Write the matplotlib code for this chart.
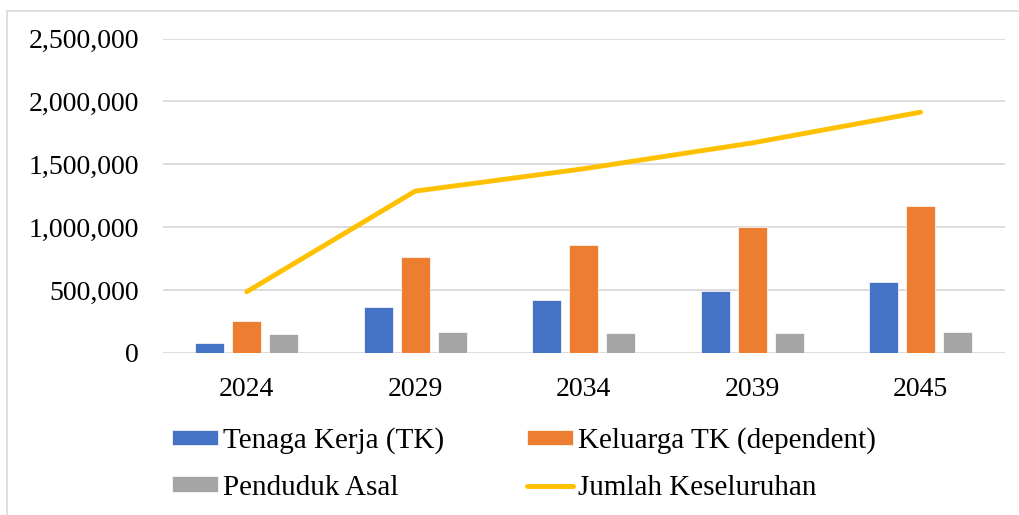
import numpy as np
import matplotlib.pyplot as plt
from matplotlib.patches import Rectangle
from matplotlib.ticker import FuncFormatter

years = ['2024', '2029', '2034', '2039', '2045']
tenaga_kerja = [80000, 366000, 424000, 496000, 568000]
keluarga_tk = [255000, 761000, 862000, 1003000, 1167000]
penduduk_asal = [154000, 164000, 162000, 162000, 170000]
jumlah = [487000, 1287000, 1465000, 1670000, 1915000]

plt.rcParams['font.family'] = 'Liberation Serif'

fig = plt.figure(figsize=(10.19, 5.15), dpi=100)
ax = fig.add_axes([0.1595, 0.3146, 0.8265, 0.6104])

x = np.arange(len(years))
bar_w = 0.172
step = 0.22
colors = ['#4472C4', '#ED7D31', '#A5A5A5']
b1 = ax.bar(x - step, tenaga_kerja, bar_w, color=colors[0], edgecolor='white', linewidth=0.5, zorder=2)
b2 = ax.bar(x, keluarga_tk, bar_w, color=colors[1], edgecolor='white', linewidth=0.5, zorder=2)
b3 = ax.bar(x + step, penduduk_asal, bar_w, color=colors[2], edgecolor='white', linewidth=0.5, zorder=2)
ln, = ax.plot(x, jumlah, color='#FFC000', linewidth=3.5, solid_capstyle='round',
              solid_joinstyle='round', zorder=3)

ax.set_xlim(-0.5, len(years) - 0.5)
ax.set_ylim(0, 2500000)
ax.set_yticks(np.arange(0, 2500001, 500000))
ax.yaxis.set_major_formatter(FuncFormatter(lambda v, p: f'{int(v):,}'))
ax.set_xticks(x)
ax.set_xticklabels(years)
ax.tick_params(axis='both', length=0, labelsize=20, colors='#000000')
ax.tick_params(axis='y', pad=17)
ax.tick_params(axis='x', pad=17)
ax.grid(axis='y', color='#d9d9d9', linewidth=1.3, zorder=0)
ax.set_axisbelow(True)
for s in ax.spines.values():
    s.set_visible(False)

# outer chart border
fig.patches.append(Rectangle((7 / 1019, -0.05), 1.1, 1 - 10.7 / 515 + 0.05,
                             transform=fig.transFigure, fill=False,
                             edgecolor='#d9d9d9', linewidth=1.2))

handles = [b1, b3, b2, ln]
labels = ['Tenaga Kerja (TK)', 'Penduduk Asal', 'Keluarga TK (dependent)', 'Jumlah Keseluruhan']
fig.legend(handles, labels, ncol=2, frameon=False, fontsize=21,
           loc='center left', bbox_to_anchor=(172 / 1019, 1 - 464 / 515),
           borderpad=0, borderaxespad=0, handlelength=1.57, handleheight=0.45,
           handletextpad=0.17, columnspacing=2.85, labelspacing=0.7)

plt.savefig('out.png', dpi=100)
